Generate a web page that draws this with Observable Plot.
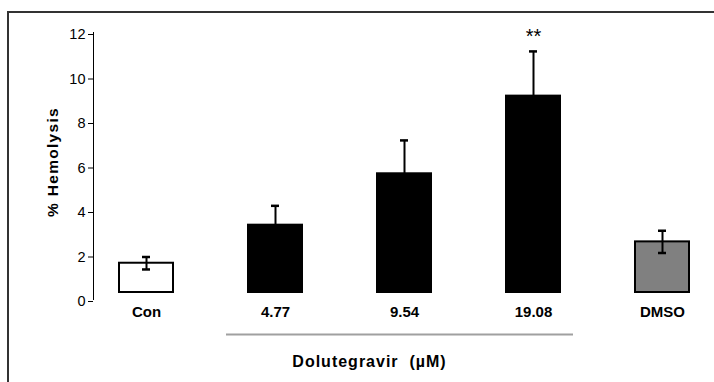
<!DOCTYPE html>
<html><head><meta charset="utf-8">
<script src="https://cdn.jsdelivr.net/npm/d3@7"></script>
<script src="https://cdn.jsdelivr.net/npm/@observablehq/plot@0.6"></script>
<style>
html,body{margin:0;padding:0;background:#fff;width:714px;height:382px;overflow:hidden;}
#wrap{position:relative;width:714px;height:382px;}
#frame{position:absolute;left:7px;top:11px;width:760px;height:420px;border:2.5px solid #333;box-sizing:border-box;}
#chart{position:absolute;left:0;top:0;}
</style></head><body>
<div id="wrap"><div id="frame"></div><div id="chart"></div></div>
<script>
const groups = ["Con", "4.77", "9.54", "19.08", "DMSO"];
const means = [1.63, 3.34, 5.65, 9.14, 2.59];
const errors = [0.28, 0.87, 1.5, 2.01, 0.5];
const fills = ["white", "black", "black", "black", "#808080"];
const significance = ["", "", "", "**", ""];
const yTicks = [0, 2, 4, 6, 8, 10, 12];
const yTitle = "% Hemolysis";
const groupTitle = "Dolutegravir  (µM)";
const bracketFrom = "4.77", bracketTo = "19.08";

const data = groups.map((g, i) => ({group: g, mean: means[i], err: errors[i], fill: fills[i], sig: significance[i]}));

const plot = Plot.plot({
  width: 714,
  height: 382,
  marginLeft: 93,
  marginRight: 0,
  marginTop: 32,
  marginBottom: 83,
  style: {fontFamily: "'Liberation Sans', Arial, sans-serif", fontSize: "14px", background: "transparent", overflow: "visible", color: "black"},
  x: {domain: groups, paddingInner: 0.585, paddingOuter: 0.19, axis: null},
  y: {domain: [0, 12], axis: null},
  color: {type: "identity"},
  marks: [
    Plot.frame({anchor: "left", stroke: "black", strokeWidth: 1}),
    Plot.axisY({ticks: yTicks, tickSize: 5, tickPadding: 3, fontSize: 14.5, dy: 2, label: null}),
    Plot.axisX({tickSize: 0, tickPadding: 7, fontWeight: "bold", fontSize: 15, label: null}),
    Plot.barY(data, {x: "group", y: "mean", fill: "fill", stroke: "black", strokeWidth: 2, insetBottom: 7}),
    Plot.ruleX(data, {x: "group", y1: d => d.mean - d.err, y2: d => d.mean + d.err, stroke: "black", strokeWidth: 2}),
    Plot.tickY(data, {x: "group", y: d => d.mean + d.err, stroke: "black", strokeWidth: 2.5, insetLeft: 23, insetRight: 23}),
    Plot.tickY(data, {x: "group", y: d => d.mean - d.err, stroke: "black", strokeWidth: 2.5, insetLeft: 23, insetRight: 23}),
    Plot.text(data.filter(d => d.sig), {x: "group", y: d => d.mean + d.err, text: "sig", dy: -15, fontSize: 20}),
    Plot.ruleY([0], {x1: () => bracketFrom, x2: () => bracketTo, dy: 35, insetLeft: -22, insetRight: -13, stroke: "#a0a0a0", strokeWidth: 2}),
    Plot.text([groupTitle], {x: () => "9.54", frameAnchor: "bottom", lineAnchor: "middle", dy: 62.7, dx: -35, fontWeight: "bold", fontSize: 16}),
    Plot.text([yTitle], {frameAnchor: "left", textAnchor: "middle", lineAnchor: "middle", rotate: -90, dx: -40, dy: -4, fontWeight: "bold", fontSize: 15.5})
  ]
});
document.getElementById("chart").appendChild(plot);
d3.select(plot).selectAll("text").filter(function() { return this.textContent === yTitle; }).style("letter-spacing", "1.3px");
d3.select(plot).selectAll("text").filter(function() { return this.textContent === groupTitle; }).style("letter-spacing", "1px");
</script>
</body></html>
